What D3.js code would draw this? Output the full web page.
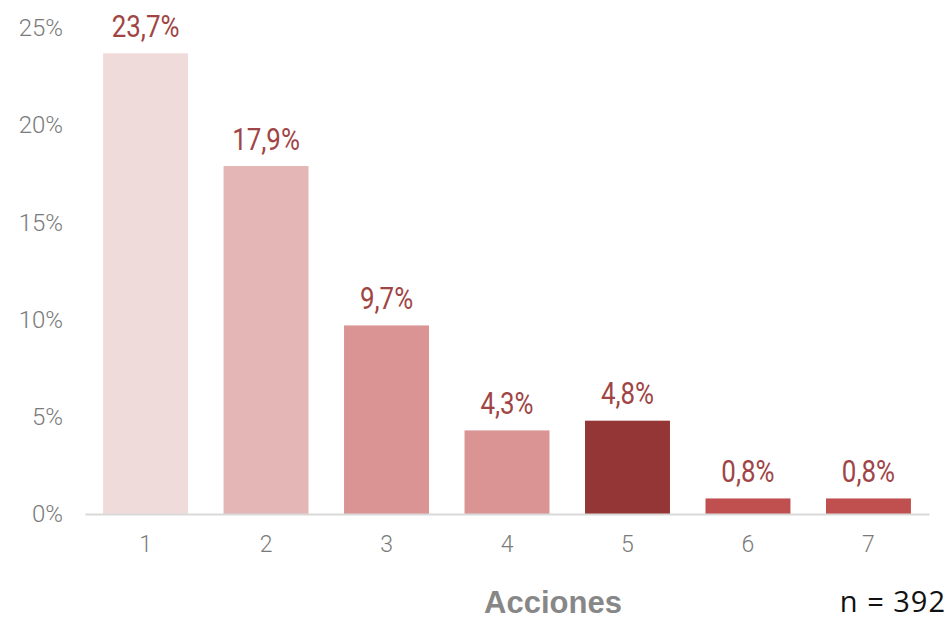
<!DOCTYPE html>
<html>
<head>
<meta charset="utf-8">
<script src="https://cdn.jsdelivr.net/npm/d3@7"></script>
<style>
  html, body { margin: 0; padding: 0; background: #fff; }
  svg { display: block; }
</style>
</head>
<body>
<svg id="chart" width="951" height="619"></svg>
<script>
const categories = ["1", "2", "3", "4", "5", "6", "7"];
const values = [23.7, 17.9, 9.7, 4.3, 4.8, 0.8, 0.8];
const valueLabels = ["23,7%", "17,9%", "9,7%", "4,3%", "4,8%", "0,8%", "0,8%"];
const barColors = ["#f0dbdb", "#e5b6b6", "#d99493", "#d99493", "#943636", "#c0504f", "#c0504f"];
const yTicks = [0, 5, 10, 15, 20, 25];
const xTitle = "Acciones";
const note = "n = 392";

const svg = d3.select("#chart");
const x = d3.scaleBand().domain(categories).range([85, 929]).paddingInner(0.295).paddingOuter(0.15);
const y = d3.scaleLinear().domain([0, 25]).range([514, 28]);

// y tick labels
const yAxis = d3.axisLeft(y).tickValues(yTicks).tickFormat(d => d + "%").tickSize(0).tickPadding(0);
const gy = svg.append("g").attr("transform", "translate(63,0)").call(yAxis);
gy.select(".domain").remove();
gy.selectAll("text")
  .attr("fill", "#7a7a7a")
  .style("font-family", "Roboto, 'Liberation Sans', sans-serif")
  .style("font-weight", "300")
  .style("font-size", "24px");

// bars
svg.append("g").selectAll("rect").data(values).join("rect")
  .attr("x", (d, i) => x(categories[i]))
  .attr("width", x.bandwidth())
  .attr("y", d => y(d))
  .attr("height", d => y(0) - y(d))
  .attr("fill", (d, i) => barColors[i]);

// x axis
const xAxis = d3.axisBottom(x).tickSize(0).tickPadding(22);
const gx = svg.append("g").attr("transform", `translate(0,${y(0)})`).call(xAxis);
gx.select(".domain").attr("stroke", "#d9d9d9").attr("stroke-width", 2);
gx.selectAll("text")
  .attr("fill", "#7a7a7a")
  .style("font-family", "Roboto, 'Liberation Sans', sans-serif")
  .style("font-weight", "300")
  .style("font-size", "23px");

// value labels (condensed look via horizontal scale)
svg.append("g").selectAll("text").data(values).join("text")
  .attr("transform", (d, i) => `translate(${x(categories[i]) + x.bandwidth() / 2},${y(d) - 16.5}) scale(0.81,1)`)
  .attr("text-anchor", "middle")
  .attr("fill", "#a04545")
  .style("font-family", "Roboto, sans-serif")
  .style("font-size", "32px")
  .text((d, i) => valueLabels[i]);

// axis title
svg.append("text")
  .attr("x", 553).attr("y", 613)
  .attr("text-anchor", "middle")
  .attr("fill", "#878787")
  .style("font-family", "'Liberation Sans', Arial, sans-serif")
  .style("font-weight", "bold")
  .style("font-size", "31px")
  .text(xTitle);

svg.append("text")
  .attr("x", 946).attr("y", 612)
  .attr("text-anchor", "end")
  .attr("fill", "#111")
  .style("font-family", "'Open Sans', 'Liberation Sans', sans-serif")
  .style("font-size", "29px")
  .style("letter-spacing", "1px")
  .text(note);
</script>
</body>
</html>
